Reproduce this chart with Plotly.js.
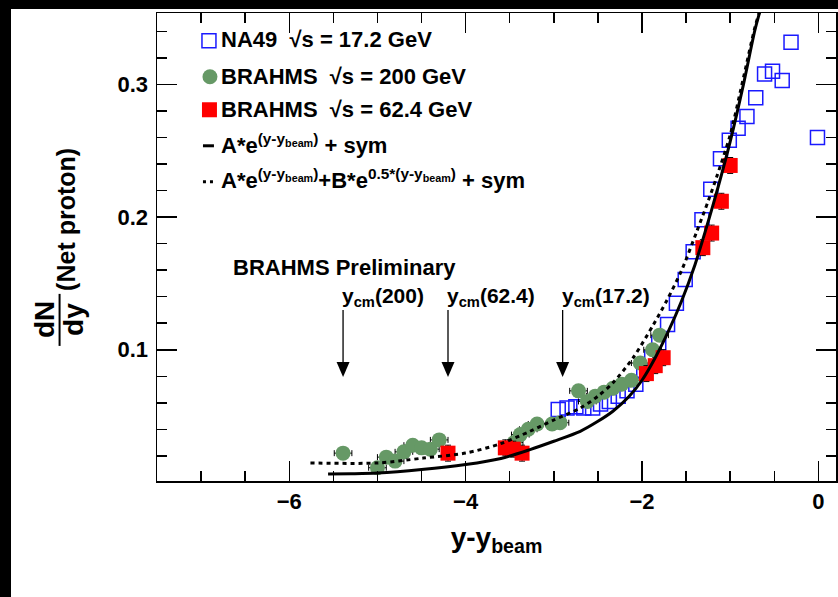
<!DOCTYPE html>
<html><head><meta charset="utf-8">
<script src="https://cdn.plot.ly/plotly-3.0.1.min.js"></script>
<style>
html,body{margin:0;padding:0;background:#000;width:838px;height:597px;overflow:hidden;}
#plot{position:absolute;left:11px;top:9px;width:827px;height:588px;background:#fff;}
</style></head><body><div id="plot"></div>
<script>
// ---- data ----
const na49X = [-2.95,-2.85,-2.75,-2.66,-2.56,-2.47,-2.37,-2.27,-2.17,-2.07,-1.98,-1.89,-1.81,-1.71,-1.61,-1.51,-1.42,-1.32,-1.22,-1.11,-1.01,-0.91,-0.81,-0.71,-0.61,-0.52,-0.41,-0.31,-0.01];
const na49Y = [0.055,0.056,0.057,0.056,0.056,0.059,0.061,0.065,0.069,0.074,0.084,0.094,0.105,0.119,0.135,0.153,0.174,0.198,0.221,0.244,0.258,0.267,0.276,0.290,0.308,0.310,0.303,0.332,0.260];

const brahms200X = [-5.39,-5.00,-4.90,-4.80,-4.70,-4.60,-4.50,-4.40,-4.30,-3.45,-3.38,-3.29,-3.19,-3.02,-2.93,-2.72,-2.62,-2.53,-2.43,-2.33,-2.23,-2.12,-2.02,-1.88,-1.80];
const brahms200Y = [0.022,0.011,0.019,0.016,0.023,0.028,0.026,0.025,0.032,0.030,0.036,0.040,0.044,0.044,0.045,0.069,0.061,0.065,0.068,0.071,0.074,0.077,0.090,0.100,0.111];

const brahms62X = [-4.20,-3.55,-3.46,-3.36,-1.95,-1.85,-1.76,-1.31,-1.21,-1.10,-1.00];
const brahms62Y = [0.022,0.026,0.025,0.022,0.082,0.088,0.094,0.177,0.188,0.212,0.239];

const fitExpX = [-5.56,-5.30,-5.00,-4.50,-4.00,-3.60,-3.27,-3.00,-2.70,-2.50,-2.33,-2.15,-2.00,-1.85,-1.70,-1.55,-1.40,-1.27,-1.14,-1.00,-0.85,-0.72,-0.66,-0.60];
const fitExpY = [0.0063,0.0065,0.0070,0.0096,0.0134,0.0180,0.0247,0.0310,0.0385,0.0460,0.0536,0.0645,0.0770,0.0940,0.1140,0.1370,0.1640,0.1920,0.2220,0.2570,0.3000,0.3410,0.3560,0.3720];

const fitExp2X = [-5.76,-5.00,-4.48,-4.00,-3.61,-3.27,-3.00,-2.70,-2.50,-2.33,-2.10,-1.87,-1.72,-1.55,-1.38,-1.25,-1.15,-1.00,-0.85,-0.72,-0.66,-0.60];
const fitExp2Y = [0.0146,0.0146,0.0183,0.0221,0.0290,0.0385,0.0470,0.0560,0.0650,0.0750,0.0940,0.1190,0.1370,0.1600,0.1890,0.2120,0.2310,0.2620,0.3050,0.3430,0.3570,0.3730];

const ycmLabels = ['200','62.4','17.2'];
const ycmValues = [-5.39,-4.20,-2.90];

const legendLabels = [
  'NA49  \u221As = 17.2 GeV',
  'BRAHMS  \u221As = 200 GeV',
  'BRAHMS  \u221As = 62.4 GeV',
  'A*e<sup>(y-y<sub>beam</sub>)</sup> + sym',
  'A*e<sup>(y-y<sub>beam</sub>)</sup>+B*e<sup>0.5*(y-y<sub>beam</sub>)</sup> + sym'
];
const xTitle = 'y-y<sub>beam</sub>';
const prelimText = 'BRAHMS Preliminary';

// ---- page geometry (frame of the plot in page pixels) ----
const OX = 11, OY = 9, W = 827, H = 588;
const L = 157, R = 836.5, T = 13.3, B = 481;
const px = x => (x - L) / (R - L);
const py = y => (B - y) / (B - T);

const FONT = 'Liberation Sans, Arial, Helvetica, sans-serif';
const BLUE = '#1a1aff', GREEN = '#669966', RED = '#ff0000';

const traces = [
  {x: na49X, y: na49Y, type: 'scatter', mode: 'markers', name: 'NA49 17.2 GeV',
   marker: {symbol: 'square-open', size: 14, color: BLUE, line: {width: 1.5, color: BLUE}}},
  {x: brahms200X, y: brahms200Y, type: 'scatter', mode: 'markers', name: 'BRAHMS 200 GeV',
   marker: {symbol: 'circle', size: 15, color: GREEN},
   error_x: {type: 'constant', value: 0.1, color: '#000', thickness: 1, width: 3},
   error_y: {type: 'constant', value: 0.004, color: '#000', thickness: 1, width: 3}},
  {x: brahms62X, y: brahms62Y, type: 'scatter', mode: 'markers', name: 'BRAHMS 62.4 GeV',
   marker: {symbol: 'square', size: 15, color: RED},
   error_y: {type: 'constant', value: 0.006, color: '#000', thickness: 1, width: 3}},
  {x: fitExpX, y: fitExpY, type: 'scatter', mode: 'lines', name: 'exp fit',
   line: {color: '#000', width: 3, shape: 'spline', smoothing: 0.8}},
  {x: fitExp2X, y: fitExp2Y, type: 'scatter', mode: 'lines', name: 'two-exp fit',
   line: {color: '#000', width: 3, shape: 'spline', smoothing: 0.8, dash: '4px,4px'}}
];

const shapes = [];
const annotations = [];

// custom legend (ROOT-like, compact)
shapes.push({type: 'rect', xref: 'paper', yref: 'paper', x0: px(202), x1: px(216), y0: py(34), y1: py(48),
  line: {color: BLUE, width: 1.5}, fillcolor: 'rgba(0,0,0,0)'});
shapes.push({type: 'circle', xref: 'paper', yref: 'paper', x0: px(202.5), x1: px(217.5), y0: py(69.5), y1: py(84.5),
  line: {width: 0}, fillcolor: GREEN});
shapes.push({type: 'rect', xref: 'paper', yref: 'paper', x0: px(202), x1: px(217), y0: py(102.5), y1: py(117.5),
  line: {width: 0}, fillcolor: RED});
shapes.push({type: 'line', xref: 'paper', yref: 'paper', x0: px(203), x1: px(214), y0: py(146), y1: py(146),
  line: {color: '#000', width: 3}});
shapes.push({type: 'line', xref: 'paper', yref: 'paper', x0: px(203), x1: px(216), y0: py(182), y1: py(182),
  line: {color: '#000', width: 3, dash: '3px,4px'}});
const legTextY = [40, 77, 110, 144, 179];
legendLabels.forEach((t, i) => {
  annotations.push({xref: 'paper', yref: 'paper', x: px(219), y: py(legTextY[i]), xanchor: 'left', yanchor: 'middle',
    text: t, showarrow: false, font: {family: FONT, size: 22, color: '#000', weight: 700}});
});

// preliminary label
annotations.push({xref: 'paper', yref: 'paper', x: px(231), y: py(268), xanchor: 'left', yanchor: 'middle',
  text: prelimText, showarrow: false, font: {family: FONT, size: 22, color: '#000', weight: 700}});

// y_cm arrows (shapes) and labels
ycmValues.forEach((v, i) => {
  shapes.push({type: 'line', xref: 'x', yref: 'y', x0: v, x1: v, y0: 0.130, y1: 0.088,
    line: {color: '#000', width: 1.3}});
  shapes.push({type: 'path', xref: 'x', yref: 'y', xsizemode: 'pixel', ysizemode: 'pixel',
    xanchor: v, yanchor: 0.0794, path: 'M0,0L-6.5,15L6.5,15Z', fillcolor: '#000', line: {width: 0}});
  annotations.push({xref: 'x', yref: 'y', x: v, y: 0.1285, xanchor: 'left', yanchor: 'bottom', xshift: -3,
    text: 'y<sub>cm</sub>(' + ycmLabels[i] + ')', showarrow: false,
    font: {family: FONT, size: 21, color: '#000', weight: 700}});
});

// y-axis title: dN/dy (Net proton), drawn as a ROOT-like fraction
annotations.push({xref: 'paper', yref: 'paper', x: px(45), y: py(320), xanchor: 'center', yanchor: 'middle',
  text: 'dN', textangle: -90, showarrow: false, font: {family: FONT, size: 28, color: '#000', weight: 700}});
annotations.push({xref: 'paper', yref: 'paper', x: px(74), y: py(320), xanchor: 'center', yanchor: 'middle',
  text: 'dy', textangle: -90, showarrow: false, font: {family: FONT, size: 28, color: '#000', weight: 700}});
annotations.push({xref: 'paper', yref: 'paper', x: px(66), y: py(220), xanchor: 'center', yanchor: 'middle',
  text: '(Net proton)', textangle: -90, showarrow: false, font: {family: FONT, size: 25, color: '#000', weight: 700}});
shapes.push({type: 'line', xref: 'paper', yref: 'paper', x0: px(59.5), x1: px(59.5), y0: py(294), y1: py(346),
  line: {color: '#000', width: 2}});

const axisCommon = {
  showgrid: false, zeroline: false, showline: true, linecolor: '#000', linewidth: 1.5,
  mirror: 'ticks', ticks: 'inside', tickcolor: '#000', tickwidth: 1.5, ticklen: 20,
  tickfont: {family: FONT, size: 22, color: '#000', weight: 700}
};

const layout = {
  width: W, height: H,
  paper_bgcolor: '#fff', plot_bgcolor: '#fff',
  margin: {l: L - OX, r: OX + W - R, t: T - OY, b: OY + H - B, pad: 0},
  showlegend: false,
  font: {family: FONT, color: '#000'},
  xaxis: Object.assign({}, axisCommon, {
    range: [-7.5, 0.2], tick0: 0, dtick: 2, ticklabelstandoff: 0,
    minor: {dtick: 0.5, ticklen: 10, tickwidth: 1.5, tickcolor: '#000', ticks: 'inside'},
    title: {text: xTitle, font: {family: FONT, size: 28, color: '#000', weight: 700}, standoff: 14}
  }),
  yaxis: Object.assign({}, axisCommon, {
    range: [0.001, 0.354], tick0: 0, dtick: 0.1, ticklabelstandoff: 3,
    minor: {dtick: 0.02, ticklen: 10, tickwidth: 1.5, tickcolor: '#000', ticks: 'inside'}
  }),
  shapes: shapes,
  annotations: annotations
};

Plotly.newPlot('plot', traces, layout, {displayModeBar: false, staticPlot: true});
</script></body></html>
